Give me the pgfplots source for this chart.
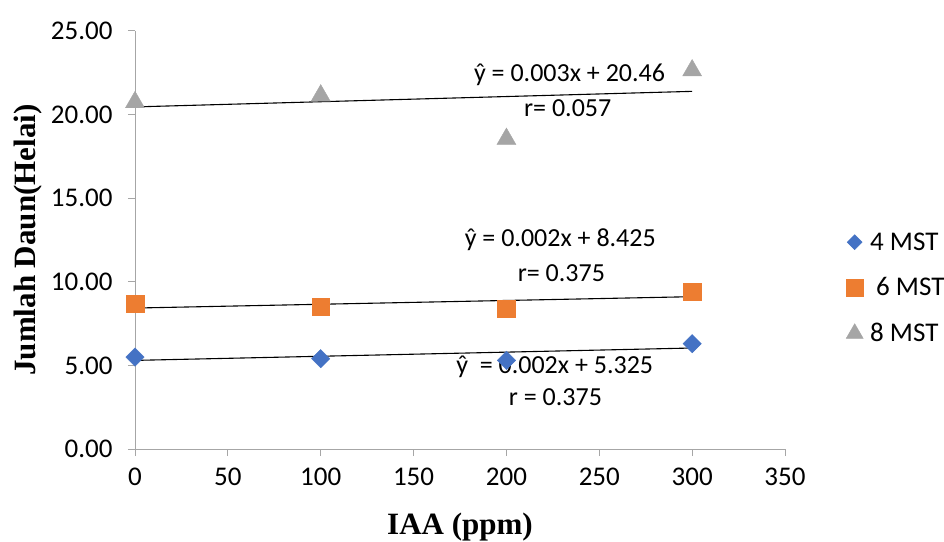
\documentclass[border=0pt]{standalone}
\usepackage{fontspec}
\setmainfont{Carlito}
\newfontfamily\labelfont{Liberation Serif}
\usepackage{pgfplots}
\pgfplotsset{compat=1.18}
\definecolor{cblue}{HTML}{4472C4}
\definecolor{corange}{HTML}{ED7D31}
\definecolor{cgray}{HTML}{A5A5A5}
\definecolor{axgray}{HTML}{A6A6A6}
\begin{document}
\begin{tikzpicture}
\useasboundingbox (0,0) rectangle (944pt,541pt);
\begin{axis}[
  at={(135pt,92pt)}, anchor=south west,
  scale only axis, width=650pt, height=418pt,
  xmin=0, xmax=350, ymin=0, ymax=25,
  xtick={0,50,...,350}, ytick={0,5,...,25},
  axis x line=bottom, axis y line=left,
  axis line style={axgray, line width=1pt, -},
  tick style={axgray, line width=1pt},
  tick align=outside, major tick length=7pt,
  /pgf/number format/assume math mode=true,
  yticklabel style={/pgf/number format/fixed, /pgf/number format/fixed zerofill, /pgf/number format/precision=2, xshift=-12pt},
  xticklabel style={yshift=-8pt},
  ticklabel style={font=\fontsize{27}{31}\selectfont, text=black},
  clip=false,
  legend image code/.code={\draw[#1] plot coordinates {(0pt,0pt)};},
  legend style={draw=none, fill=none, at={(rel axis cs:1,0.385)}, anchor=west, xshift=61pt,
    inner sep=0pt, row sep=22pt, font=\fontsize{27}{31}\selectfont},
  legend cell align=left,
]
% 4 MST
\addplot[only marks, forget plot, mark=square*, mark size=6.5pt, mark options={rotate=45, fill=cblue, draw=cblue}]
  coordinates {(0,5.5) (100,5.4) (200,5.3) (300,6.3)};
% 6 MST
\addplot[only marks, forget plot, mark=square*, mark size=8.8pt, mark options={fill=corange, draw=corange}]
  coordinates {(0,8.7) (100,8.5) (200,8.4) (300,9.4)};
% 8 MST
\addplot[only marks, forget plot, mark=triangle*, mark size=11pt, mark options={fill=cgray, draw=cgray, yshift=-2.7pt}]
  coordinates {(0,20.9) (100,21.3) (200,18.7) (300,22.8)};
% trend lines
\addplot[black, line width=1.1pt, forget plot] coordinates {(0,5.3) (300,6.04)};
\addplot[black, line width=1.1pt, forget plot] coordinates {(0,8.43) (300,9.11)};
\addplot[black, line width=1.1pt, forget plot] coordinates {(0,20.46) (300,21.39)};
% legend
\addlegendimage{only marks, mark=square*, mark size=5.3pt, mark options={rotate=45, fill=cblue, draw=cblue}}
\addlegendentry{\hspace*{5pt}4 MST}
\addlegendimage{only marks, mark=square*, mark size=8.5pt, mark options={fill=corange, draw=corange}}
\addlegendentry{\hspace*{11pt}6 MST}
\addlegendimage{only marks, mark=triangle*, mark size=9.8pt, mark options={fill=cgray, draw=cgray}}
\addlegendentry{\hspace*{5pt}8 MST}
% annotations
\node[font=\fontsize{26}{30}\selectfont] at (axis cs:234,22.4) {ŷ = 0.003x + 20.46};
\node[font=\fontsize{26}{30}\selectfont] at (axis cs:233,20.4) {r= 0.057};
\node[font=\fontsize{26}{30}\selectfont] at (axis cs:229,12.5) {ŷ = 0.002x + 8.425};
\node[font=\fontsize{26}{30}\selectfont] at (axis cs:229.6,10.5) {r= 0.375};
\node[font=\fontsize{26}{30}\selectfont] at (axis cs:226,4.92) {ŷ\ \ = 0.002x + 5.325};
\node[font=\fontsize{26}{30}\selectfont] at (axis cs:226.4,3.13) {r = 0.375};
% axis labels
\node[font=\labelfont\bfseries\fontsize{31}{36}\selectfont, yshift=-78pt] at (rel axis cs:0.5,0) {IAA (ppm)};
\node[font=\labelfont\bfseries\fontsize{31}{36}\selectfont, xshift=-107pt, rotate=90] at (rel axis cs:0,0.5) {Jumlah Daun(Helai)};
\end{axis}
\end{tikzpicture}
\end{document}
